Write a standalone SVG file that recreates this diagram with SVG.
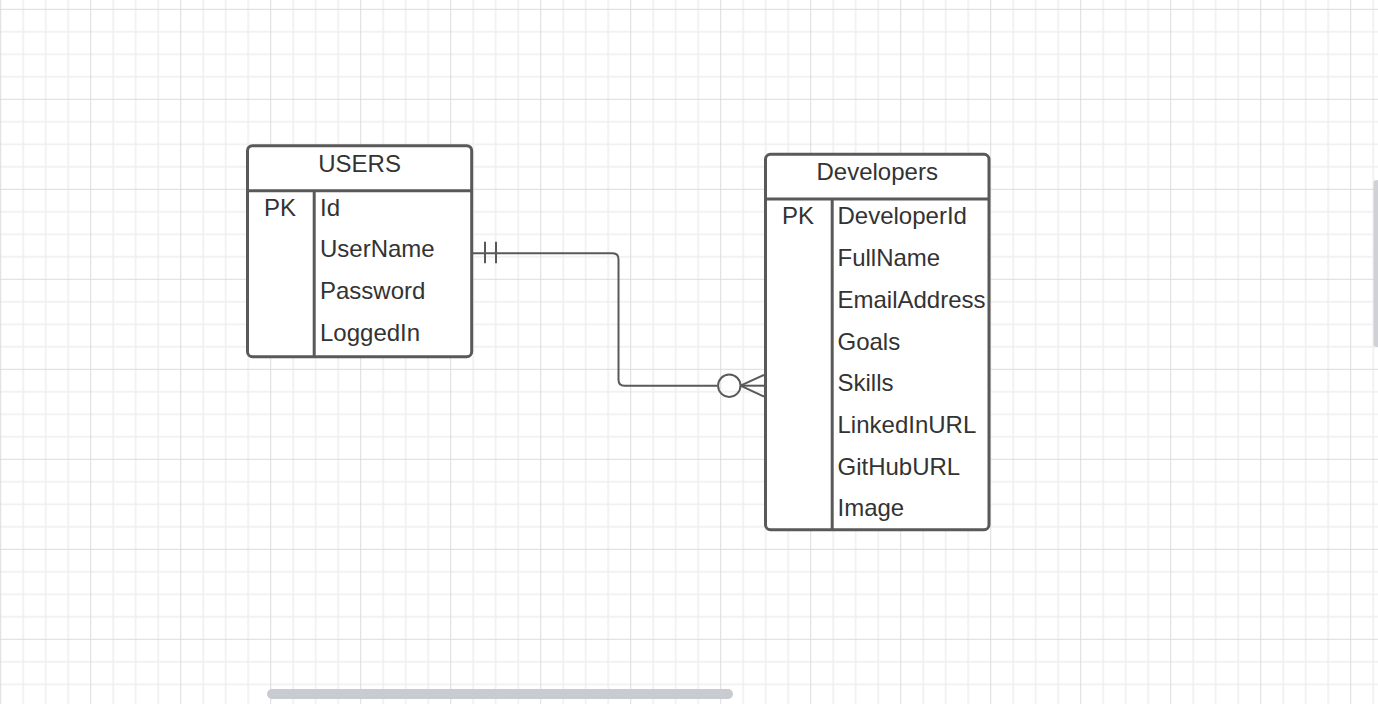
<svg xmlns="http://www.w3.org/2000/svg" width="1378" height="704" viewBox="0 0 1378 704">
  <style>
    .box { fill: #ffffff; stroke: #595959; stroke-width: 3; }
    .div { stroke: #595959; stroke-width: 3; fill: none; }
    .txt { font-family: "Liberation Sans", Arial, sans-serif; font-size: 24px; fill: #333333; }
    .title { text-anchor: middle; }
    .conn { stroke: #595959; stroke-width: 2; fill: none; }
  </style>
  <defs>
    <pattern id="grid" x="0.2" y="8.8" width="90" height="90" patternUnits="userSpaceOnUse">
      <g stroke="#eeeeee" stroke-width="1.5">
        <line x1="23" y1="0" x2="23" y2="90"/>
        <line x1="45.5" y1="0" x2="45.5" y2="90"/>
        <line x1="68" y1="0" x2="68" y2="90"/>
        <line x1="0" y1="23" x2="90" y2="23"/>
        <line x1="0" y1="45.5" x2="90" y2="45.5"/>
        <line x1="0" y1="68" x2="90" y2="68"/>
      </g>
      <g stroke="#dcdcdc" stroke-width="1">
        <line x1="0.5" y1="0" x2="0.5" y2="90"/>
        <line x1="0" y1="0.5" x2="90" y2="0.5"/>
      </g>
    </pattern>
  </defs>
  <rect x="0" y="0" width="1378" height="704" fill="#ffffff"/>
  <rect x="0" y="0" width="1378" height="704" fill="url(#grid)"/>

  <g id="connectors">
    <path class="conn" d="M473,253.3 H612.5 Q618.5,253.3 618.5,259.3 V379.7 Q618.5,385.7 624.5,385.7 H717.5"/>
    <line class="conn" x1="485" y1="241.7" x2="485" y2="263.3"/>
    <line class="conn" x1="496" y1="241.7" x2="496" y2="263.3"/>
    <circle class="conn" cx="729.3" cy="385.7" r="11.2"/>
    <line class="conn" x1="740.5" y1="385.7" x2="764" y2="385.7"/>
    <line class="conn" x1="740.5" y1="385.7" x2="764" y2="375"/>
    <line class="conn" x1="740.5" y1="385.7" x2="764" y2="396.5"/>
  </g>

  <g id="users">
    <rect class="box" x="247.5" y="145.7" width="224.2" height="211" rx="5"/>
    <line class="div" x1="247.5" y1="190.8" x2="471.7" y2="190.8"/>
    <line class="div" x1="314.2" y1="190.8" x2="314.2" y2="356.7"/>
    <text class="txt title" x="359.6" y="172.3">USERS</text>
    <text class="txt" x="264" y="216">PK</text>
    <text class="txt" x="320" y="215.5">Id</text>
    <text class="txt" x="320" y="257.3">UserName</text>
    <text class="txt" x="320" y="299">Password</text>
    <text class="txt" x="320" y="341">LoggedIn</text>
  </g>

  <g id="developers">
    <rect class="box" x="765.5" y="154.3" width="223.5" height="375.4" rx="5"/>
    <line class="div" x1="765.5" y1="199" x2="989" y2="199"/>
    <line class="div" x1="832.2" y1="199" x2="832.2" y2="529.7"/>
    <text class="txt title" x="877.2" y="180.3">Developers</text>
    <text class="txt" x="782" y="224">PK</text>
    <text class="txt" x="837.5" y="224">DeveloperId</text>
    <text class="txt" x="837.5" y="266.3">FullName</text>
    <text class="txt" x="837.5" y="308">EmailAddress</text>
    <text class="txt" x="837.5" y="349.7">Goals</text>
    <text class="txt" x="837.5" y="391.3">Skills</text>
    <text class="txt" x="837.5" y="433">LinkedInURL</text>
    <text class="txt" x="837.5" y="474.7">GitHubURL</text>
    <text class="txt" x="837.5" y="515.7">Image</text>
  </g>

  <rect x="267" y="689" width="466" height="10" rx="5" fill="#c8cbd0"/>
  <rect x="1373.5" y="180" width="6" height="167" rx="3" fill="#cfd1d6"/>
</svg>
